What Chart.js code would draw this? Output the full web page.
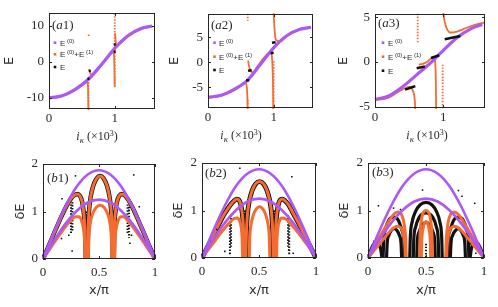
<!DOCTYPE html>
<html><head><meta charset="utf-8">
<script src="https://cdn.jsdelivr.net/npm/chart.js@4.4.1/dist/chart.umd.min.js"></script>
<style>
html,body{margin:0;padding:0;background:#fff;}
body{width:498px;height:307px;position:relative;overflow:hidden;}
canvas{position:absolute;}
</style></head><body>
<canvas id="a1"></canvas><canvas id="a2"></canvas><canvas id="a3"></canvas>
<canvas id="b1"></canvas><canvas id="b2"></canvas><canvas id="b3"></canvas>
<script>
// ================= DATA =================
// ---- top row: x in units of 10^3
const topX = [0, 0.2, 0.4, 0.6, 0.8, 1.0, 1.2, 1.4, 1.57];
const topXTicks = [0, 1];
// (a1)
const a1_E0 = [-10, -9.4, -7.6, -4.8, -0.7, 3.8, 7.3, 9.3, 10];
const a1_x1 = [0, 0.2, 0.4, 0.5, 0.55, 0.58, 0.59, 0.595, 0.6, 0.6, 0.61, 0.625, 0.65, 0.7, 0.8, 0.9, 0.95, 0.975, 0.99, 0.995, 1.0, 1.0, 1.005, 1.015, 1.03, 1.1, 1.2, 1.4, 1.57];
const a1_E1 = [-10.1, -9.5, -7.8, -6.5, -5.8, -5.6, -6.2, -7.5, -13.5, null, -2.0, -3.0, -3.5, -2.8, -0.8, 1.4, 2.4, 2.7, 1.8, -1, -7, null, 8, 5.8, 4.6, 5.4, 7.1, 9.1, 9.9];
const a1_dotCols = [[0.6, -4.8, -13.2], [0.604, 7.2, 8.0], [1.0, 13.5, -6.7]];      // [x, y1, y2]
const a1_E = [[0.585, -4.7, 0.615, -4.6], [0.605, -2.5, 0.635, -2.4], [0.985, 4.8, 1.015, 4.9], [0.985, 2.8, 1.015, 2.9]];
const a1_yTicks = [-10, 0, 10];
// (a2)
const a2_E0 = [-7, -6.6, -5.4, -3.6, -0.4, 2.9, 5.3, 6.6, 7.0];
const a2_x1 = [0, 0.2, 0.4, 0.5, 0.54, 0.57, 0.585, 0.595, 0.6, 0.605, 0.605, 0.612, 0.62, 0.64, 0.68, 0.75, 0.85, 0.92, 0.95, 0.965, 0.975, 0.985, 0.99, 0.995, 0.995, 1.0, 1.01, 1.02, 1.04, 1.1, 1.2, 1.4, 1.57];
const a2_E1 = [-7.1, -6.7, -5.6, -4.7, -4.1, -4.0, -4.4, -5.5, -7, -9.5, null, 0.4, -0.4, -1.4, -2.0, -0.9, 0.9, 1.8, 1.9, 1.7, 1.0, -1.5, -4, -9.5, null, 9.8, 7.5, 5.6, 4.4, 4.2, 5.3, 6.6, 7.1];
const a2_dotCols = [[0.605, 9.7, 8.3], [0.605, -7.5, -9.2], [1.0, 0.2, -9.2]];
const a2_E = [[0.58, -3.6, 0.63, -3.6], [0.61, -1.7, 0.665, -1.6], [0.975, 3.9, 1.03, 4.0], [0.955, 1.8, 1.0, 1.9]];
const a2_yTicks = [-5, 0, 5];
// (a3)
const a3_E0 = [-4.2, -3.8, -2.8, -1.5, -0.2, 1.3, 2.7, 3.7, 4.2];
const a3_x1 = [0, 0.2, 0.35, 0.45, 0.5, 0.53, 0.56, 0.575, 0.585, 0.59, 0.59, 0.64, 0.7, 0.76, 0.82, 0.86, 0.875, 0.885, 0.89, 0.895, 0.895, 1.0, 1.01, 1.03, 1.06, 1.1, 1.2, 1.3, 1.4, 1.5, 1.6];
const a3_E1 = [-4.3, -4.0, -3.3, -2.9, -2.8, -2.9, -3.3, -3.8, -4.6, -5.4, null, -0.3, -0.2, 0.0, 0.4, 0.55, 0.3, -0.5, -2, -5.4, null, 5.5, 4.9, 4.2, 3.6, 3.3, 3.4, 3.7, 4.0, 4.25, 4.4];
const a3_dotCols = [[0.625, 5.4, 2.0], [0.99, -0.3, -5.2]];
const a3_E = [[0.44, -3.1, 0.59, -2.7], [0.61, -0.7, 0.73, -0.5], [0.82, 0.45, 0.94, 0.75], [1.02, 2.55, 1.25, 2.9]];
const a3_yTicks = [-5, 0, 5];

// ---- bottom row: x/pi
const botX = [0, 0.1, 0.2, 0.3, 0.4, 0.5, 0.6, 0.7, 0.8, 0.9, 1];
const botXTicks = [0, 0.5, 1];
const botYTicks = [0, 1, 2];
const purpleHigh = [0, 0.58, 1.1, 1.52, 1.78, 1.87, 1.78, 1.52, 1.1, 0.58, 0];
const purpleLow = [0, 0.39, 0.74, 1.01, 1.19, 1.25, 1.19, 1.01, 0.74, 0.39, 0];
// (b1) orange arches: [xs, ys]
const b1_outer = [
  [[0, 0.05, 0.1, 0.15, 0.2, 0.25, 0.28, 0.305, 0.33, 0.35, 0.365, 0.375, 0.382], [0, 0.27, 0.55, 0.82, 1.07, 1.27, 1.34, 1.37, 1.33, 1.2, 0.95, 0.6, 0]],
  [[0.398, 0.402, 0.41, 0.425, 0.45, 0.48, 0.51, 0.54, 0.57, 0.595, 0.61, 0.618, 0.622], [0, 0.6, 0.98, 1.3, 1.55, 1.7, 1.75, 1.7, 1.55, 1.3, 0.98, 0.6, 0]],
  [[0.632, 0.636, 0.645, 0.66, 0.68, 0.705, 0.73, 0.76, 0.8, 0.85, 0.9, 0.95, 1], [0, 0.6, 0.95, 1.2, 1.33, 1.37, 1.34, 1.25, 1.08, 0.82, 0.55, 0.27, 0]]
];
const b1_inner = [
  [[0, 0.05, 0.1, 0.15, 0.2, 0.25, 0.29, 0.32, 0.345, 0.36, 0.37, 0.375], [0, 0.17, 0.35, 0.52, 0.68, 0.82, 0.89, 0.89, 0.8, 0.65, 0.45, 0]],
  [[0.405, 0.41, 0.42, 0.44, 0.47, 0.51, 0.55, 0.58, 0.6, 0.61, 0.615], [0, 0.45, 0.72, 0.93, 1.07, 1.13, 1.07, 0.93, 0.72, 0.45, 0]],
  [[0.64, 0.645, 0.655, 0.67, 0.695, 0.72, 0.76, 0.8, 0.85, 0.9, 0.95, 1], [0, 0.45, 0.65, 0.8, 0.89, 0.89, 0.8, 0.68, 0.52, 0.35, 0.17, 0]]
];
const b1_blackCols = [[0.25, 1.15, 0.55], [0.262, 1.2, 0.6], [0.755, 1.15, 0.55], [0.768, 1.1, 0.45], [0.386, 1.0, 0], [0.396, 0.9, 0], [0.624, 0.9, 0], [0.634, 1.0, 0]];
const b1_orangeCols = [[0.39, 0.35, 0], [0.628, 0.35, 0]];
const b1_dots = [[0.17, 1.27], [0.29, 1.75], [0.81, 1.77], [0.86, 1.1], [0.165, 0.43], [0.26, 0.17], [0.776, 0.33], [0.23, 0.5], [0.79, 0.5]];
// (b2)
const b2_outer = [
  [[0, 0.05, 0.1, 0.15, 0.2, 0.25, 0.28, 0.305, 0.33, 0.345, 0.357, 0.365, 0.37], [0, 0.24, 0.48, 0.72, 0.94, 1.12, 1.2, 1.24, 1.2, 1.07, 0.85, 0.55, 0]],
  [[0.385, 0.39, 0.398, 0.415, 0.44, 0.47, 0.505, 0.54, 0.57, 0.595, 0.612, 0.62, 0.625], [0, 0.55, 0.9, 1.2, 1.42, 1.56, 1.61, 1.56, 1.42, 1.2, 0.9, 0.55, 0]],
  [[0.64, 0.645, 0.653, 0.665, 0.68, 0.705, 0.73, 0.76, 0.8, 0.85, 0.9, 0.95, 1], [0, 0.55, 0.85, 1.07, 1.2, 1.24, 1.2, 1.12, 0.94, 0.72, 0.48, 0.24, 0]]
];
const b2_inner = [
  [[0, 0.05, 0.1, 0.15, 0.2, 0.24, 0.28, 0.31, 0.33, 0.345, 0.352, 0.356], [0, 0.16, 0.32, 0.48, 0.63, 0.74, 0.83, 0.84, 0.78, 0.62, 0.4, 0]],
  [[0.415, 0.42, 0.43, 0.45, 0.475, 0.505, 0.535, 0.56, 0.58, 0.59, 0.595], [0, 0.45, 0.7, 0.9, 1.03, 1.08, 1.03, 0.9, 0.7, 0.45, 0]],
  [[0.654, 0.658, 0.665, 0.68, 0.7, 0.73, 0.77, 0.81, 0.86, 0.91, 0.96, 1], [0, 0.4, 0.62, 0.78, 0.84, 0.83, 0.74, 0.63, 0.48, 0.32, 0.16, 0]]
];
const b2_blackCols = [[0.245, 0.75, 0.07], [0.255, 0.9, 0.2], [0.372, 1.0, 0], [0.382, 1.0, 0], [0.628, 1.0, 0], [0.638, 1.0, 0], [0.755, 0.9, 0.2], [0.765, 0.75, 0.07]];
const b2_orangeCols = [[0.375, 0.3, 0], [0.633, 0.3, 0]];
const b2_dots = [[0.332, 1.89], [0.788, 1.71], [0.068, 0.35], [0.2, 0.14], [0.76, 0.17], [0.8, 0.1], [0.13, 0.6], [0.935, 0.35]];
// (b3)
const b3_outer = [
  [[0, 0.05, 0.1, 0.15, 0.2, 0.23, 0.26, 0.285, 0.305, 0.318, 0.326, 0.33], [0, 0.22, 0.44, 0.65, 0.85, 0.94, 0.97, 0.93, 0.8, 0.6, 0.35, 0]],
  [[0.445, 0.448, 0.455, 0.465, 0.48, 0.5, 0.52, 0.535, 0.545, 0.552, 0.555], [0, 0.45, 0.7, 0.87, 0.97, 1.0, 0.97, 0.87, 0.7, 0.45, 0]],
  [[0.67, 0.674, 0.682, 0.695, 0.715, 0.74, 0.77, 0.8, 0.85, 0.9, 0.95, 1], [0, 0.35, 0.6, 0.8, 0.93, 0.97, 0.94, 0.85, 0.65, 0.44, 0.22, 0]]
];
const b3_inner = [
  [[0, 0.05, 0.1, 0.15, 0.2, 0.23, 0.26, 0.285, 0.3, 0.31, 0.318, 0.322], [0, 0.15, 0.3, 0.45, 0.59, 0.65, 0.67, 0.63, 0.55, 0.42, 0.25, 0]],
  [[0.46, 0.463, 0.47, 0.48, 0.49, 0.5, 0.51, 0.52, 0.53, 0.537, 0.54], [0, 0.35, 0.55, 0.68, 0.75, 0.77, 0.75, 0.68, 0.55, 0.35, 0]],
  [[0.678, 0.682, 0.69, 0.7, 0.715, 0.74, 0.77, 0.8, 0.85, 0.9, 0.95, 1], [0, 0.25, 0.42, 0.55, 0.63, 0.67, 0.65, 0.59, 0.45, 0.3, 0.15, 0]]
];
const b3_black = [
  [[0.36, 0.365, 0.38, 0.41, 0.45, 0.5, 0.55, 0.59, 0.62, 0.635, 0.64], [0, 0.45, 0.75, 0.98, 1.12, 1.17, 1.12, 0.98, 0.75, 0.45, 0]],
  [[0.39, 0.395, 0.41, 0.44, 0.5, 0.56, 0.59, 0.605, 0.61], [0, 0.4, 0.65, 0.85, 0.95, 0.85, 0.65, 0.4, 0]],
  [[0.42, 0.425, 0.44, 0.47, 0.5, 0.53, 0.56, 0.575, 0.58], [0, 0.35, 0.55, 0.7, 0.75, 0.7, 0.55, 0.35, 0]],
  [[0.13, 0.135, 0.15, 0.18, 0.22, 0.26, 0.29, 0.31, 0.315], [0, 0.35, 0.6, 0.8, 0.86, 0.8, 0.6, 0.35, 0]],
  [[0.16, 0.165, 0.18, 0.2, 0.225, 0.25, 0.27, 0.285, 0.29], [0, 0.3, 0.48, 0.58, 0.62, 0.58, 0.48, 0.3, 0]],
  [[0.685, 0.69, 0.71, 0.74, 0.78, 0.82, 0.85, 0.865, 0.87], [0, 0.35, 0.6, 0.8, 0.86, 0.8, 0.6, 0.35, 0]],
  [[0.71, 0.715, 0.73, 0.755, 0.775, 0.8, 0.82, 0.835, 0.84], [0, 0.3, 0.48, 0.58, 0.62, 0.58, 0.48, 0.3, 0]],
  [[0, 0.03, 0.06, 0.09, 0.11, 0.12], [0, 0.2, 0.32, 0.3, 0.18, 0]],
  [[0.88, 0.89, 0.91, 0.94, 0.97, 1], [0, 0.18, 0.3, 0.32, 0.2, 0]]
];
const b3_blackCols = [[0.125, 0.3, 0], [0.32, 0.5, 0], [0.68, 0.5, 0], [0.875, 0.3, 0], [0.5, 0.3, 0]];
const b3_dots = [[0.09, 1.1], [0.22, 1.05], [0.28, 1.02], [0.47, 1.43], [0.78, 1.42], [0.81, 1.3], [0.92, 1.15], [0.88, 0.3], [0.93, 0.1], [0.05, 0.35]];

// ================= STYLE =================
const PURPLE = 'rgb(172,88,245)', ORANGE = 'rgb(245,108,48)', BLACK = '#111';
const TICK_FONT = {family: 'Liberation Serif', size: 13};
const TEXT = '#2a2a2a';

const zip = (xs, ys) => xs.map((x, i) => ({x, y: ys[i]}));
function lineDS(data, color, width, order, dash) {
  return {data, showLine: true, borderColor: color, backgroundColor: color, borderWidth: width,
    pointRadius: 0, cubicInterpolationMode: 'monotone', spanGaps: false, order, clip: 1, borderDash: dash || []};
}
function dotDS(pts, color, r, order) {
  return {data: pts.map(p => ({x: p[0], y: p[1]})), showLine: false, pointRadius: r, pointStyle: 'rect',
    backgroundColor: color, borderWidth: 0, order, clip: 1};
}
function colDS(cols, color, width, order) {
  return cols.map(c => lineDS([{x: c[0], y: c[1]}, {x: c[0], y: c[2]}], color, width, order, [1.5, 1.5]));
}
function segDS(segs, color, width, order) {
  return segs.map(s => lineDS([{x: s[0], y: s[1]}, {x: s[2], y: s[3]}], color, width, order));
}

const DECO = {};
function runs(ctx, x, y, parts, align) {
  let w = 0;
  parts.forEach(p => { ctx.font = p[1]; w += ctx.measureText(p[0]).width; });
  let cx = align === 'center' ? x - w / 2 : x;
  parts.forEach(p => { ctx.font = p[1]; ctx.fillText(p[0], cx, y + (p[2] || 0)); cx += ctx.measureText(p[0]).width; });
}
const decoPlugin = {
  id: 'deco',
  afterDatasetsDraw(chart) {
    const d = DECO[chart.canvas.id];
    const ctx = chart.ctx, a = chart.chartArea, sx = chart.scales.x, sy = chart.scales.y;
    ctx.save();
    ctx.strokeStyle = '#262626'; ctx.lineWidth = 1;
    ctx.strokeRect(Math.round(a.left) + 0.5, Math.round(a.top) + 0.5, Math.round(a.right - a.left) - 1, Math.round(a.bottom - a.top) - 1);
    ctx.beginPath();
    const L = 3;
    sx.ticks.forEach(t => { const p = Math.round(sx.getPixelForValue(t.value)) + 0.5;
      ctx.moveTo(p, a.bottom); ctx.lineTo(p, a.bottom - L); ctx.moveTo(p, a.top); ctx.lineTo(p, a.top + L); });
    sy.ticks.forEach(t => { const p = Math.round(sy.getPixelForValue(t.value)) + 0.5;
      ctx.moveTo(a.left, p); ctx.lineTo(a.left + L, p); ctx.moveTo(a.right, p); ctx.lineTo(a.right - L, p); });
    ctx.stroke();
    const ox = d.left, oy = d.top;
    ctx.fillStyle = TEXT; ctx.textBaseline = 'alphabetic';
    // panel label
    const SF = '13px "Liberation Serif"', SI = 'italic 13px "Liberation Serif"';
    runs(ctx, d.lab[0] - ox, d.lab[1] - oy, [['(', SF], [d.name[0], SI], [d.name.slice(1) + ')', SF]]);
    // legend
    if (d.leg) {
      const F = '8px "Liberation Sans"', S = '6px "Liberation Sans"';
      const items = [[PURPLE, [['E', F], [' (0)', S, -3]]], [ORANGE, [['E', F], [' (0)', S, -3], ['+E', F], [' (1)', S, -3]]], [BLACK, [['E', F]]]];
      items.forEach((it, i) => {
        const yy = d.leg.rows[i] - oy;
        ctx.fillStyle = it[0]; ctx.fillRect(d.leg.mx - ox - 1.3, yy - 1.3, 2.6, 2.6);
        ctx.fillStyle = TEXT; runs(ctx, d.leg.tx - ox, yy + 3, it[1]);
      });
    }
    // x title of the top row
    if (d.xt) {
      const N = '12px "Liberation Serif"', I = 'italic 12px "Liberation Serif"', IS = 'italic 9px "Liberation Serif"', SS = '8px "Liberation Serif"';
      runs(ctx, d.xt[0] - ox, d.xt[1] - oy, [['i', I], ['\u03BA', IS, 2.5], [' (\u00D710', N], ['3', SS, -4.5], [')', N]], 'center');
    }
    ctx.restore();
  }
};

function makeChart(id, p) {
  const cv = document.getElementById(id);
  cv.width = p.w; cv.height = p.h;
  cv.style.left = p.left + 'px'; cv.style.top = p.top + 'px';
  cv.style.width = p.w + 'px'; cv.style.height = p.h + 'px';
  DECO[id] = p;
  new Chart(cv, {
    type: 'scatter',
    data: {datasets: p.datasets},
    plugins: [decoPlugin],
    options: {
      responsive: false, animation: false, devicePixelRatio: 1,
      layout: {padding: {left: 0, top: p.pt, right: p.pr, bottom: 0}},
      plugins: {legend: {display: false}, tooltip: {enabled: false}},
      scales: {
        x: {type: 'linear', min: p.xr[0], max: p.xr[1],
          grid: {display: false, drawTicks: false}, border: {display: false},
          ticks: {font: TICK_FONT, color: TEXT, padding: p.xpad, maxRotation: 0, autoSkip: false, callback: v => String(v)},
          afterBuildTicks: s => { s.ticks = p.xticks.map(v => ({value: v})); },
          afterFit: s => { s.height = p.hX; s.paddingLeft = 0; s.paddingRight = 0; },
          title: p.xtitle ? {display: true, text: p.xtitle, color: TEXT, font: {family: 'DejaVu Sans', size: 13}, padding: {top: 0, bottom: p.xtpad}} : {display: false}},
        y: {type: 'linear', min: p.yr[0], max: p.yr[1],
          grid: {display: false, drawTicks: false}, border: {display: false},
          ticks: {font: TICK_FONT, color: TEXT, padding: p.ypad, autoSkip: false, callback: v => String(v)},
          afterBuildTicks: s => { s.ticks = p.yticks.map(v => ({value: v})); },
          afterFit: s => { s.width = p.wY; s.paddingTop = 0; s.paddingBottom = 0; },
          title: {display: true, text: p.ytitle, color: TEXT, font: {family: 'DejaVu Sans', size: 13}, padding: {top: p.ytpad, bottom: 0}}}
      }
    }
  });
}

function topSets(E0, x1, E1, cols, E) {
  return [
    ...segDS(E, BLACK, 2.5, 0),
    lineDS(zip(topX, E0), PURPLE, 3.2, 1),
    lineDS(zip(x1, E1), ORANGE, 1.8, 2),
    ...colDS(cols, ORANGE, 1.8, 2)
  ];
}
function botSets(outer, inner, blackArches, blackW, blackCols, orangeCols, dots) {
  const s = [lineDS(zip(botX, purpleHigh), PURPLE, 2.6, 0), lineDS(zip(botX, purpleLow), PURPLE, 2.6, 0)];
  outer.forEach(a => s.push(lineDS(zip(a[0], a[1]), ORANGE, 3, 1)));
  inner.forEach(a => s.push(lineDS(zip(a[0], a[1]), ORANGE, 3, 1)));
  blackArches.forEach(a => s.push(lineDS(zip(a[0], a[1]), BLACK, blackW, 2)));
  s.push(...colDS(blackCols, BLACK, 2, 2));
  s.push(...colDS(orangeCols, ORANGE, 2, 1));
  s.push(dotDS(dots, BLACK, 1.1, 0));
  return s;
}

makeChart('a1', {left: 0, top: 0, w: 160, h: 145, wY: 49, pr: 5, pt: 13, hX: 36,
  xr: [0, 1.613], yr: [-13.06, 13.6], xticks: topXTicks, yticks: a1_yTicks, xpad: 2, ypad: 5,
  ytitle: 'E', ytpad: 2, name: 'a1', lab: [52, 29], xt: [97, 140],
  leg: {mx: 55, tx: 60, rows: [42.7, 54.3, 67]},
  datasets: topSets(a1_E0, a1_x1, a1_E1, a1_dotCols, a1_E)});
makeChart('a2', {left: 165, top: 0, w: 153, h: 145, wY: 43, pr: 5, pt: 14, hX: 37,
  xr: [0, 1.60], yr: [-9.14, 9.66], xticks: topXTicks, yticks: a2_yTicks, xpad: 2, ypad: 5,
  ytitle: 'E', ytpad: 2, name: 'a2', lab: [211, 29], xt: [241, 139],
  leg: {mx: 214.5, tx: 219, rows: [42.7, 56.7, 70]},
  datasets: topSets(a2_E0, a2_x1, a2_E1, a2_dotCols, a2_E)});
makeChart('a3', {left: 330, top: 0, w: 160, h: 145, wY: 45, pr: 5, pt: 14, hX: 37,
  xr: [0, 1.61], yr: [-5.15, 5.37], xticks: topXTicks, yticks: a3_yTicks, xpad: 2, ypad: 5,
  ytitle: 'E', ytpad: 6, name: 'a3', lab: [378, 27], xt: [427, 139],
  leg: {mx: 383, tx: 388, rows: [42.7, 56.7, 70.7]},
  datasets: topSets(a3_E0, a3_x1, a3_E1, a3_dotCols, a3_E)});

makeChart('b1', {left: 0, top: 148, w: 160, h: 159, wY: 43, pr: 5, pt: 16, hX: 48,
  xr: [0, 1], yr: [0, 2], xticks: botXTicks, yticks: botYTicks, xpad: 6, ypad: 5,
  ytitle: '\u03B4E', ytpad: 13, xtitle: 'x/\u03C0', xtpad: 9, name: 'b1', lab: [47, 182],
  datasets: botSets(b1_outer, b1_inner, b1_outer, 4.4, b1_blackCols, b1_orangeCols, b1_dots)});
makeChart('b2', {left: 165, top: 148, w: 156, h: 159, wY: 37, pr: 5, pt: 15, hX: 49,
  xr: [0, 1], yr: [0, 2], xticks: botXTicks, yticks: botYTicks, xpad: 6, ypad: 5,
  ytitle: '\u03B4E', ytpad: 6, xtitle: 'x/\u03C0', xtpad: 9, name: 'b2', lab: [205, 177],
  datasets: botSets(b2_outer, b2_inner, b2_outer, 4.8, b2_blackCols, b2_orangeCols, b2_dots)});
makeChart('b3', {left: 330, top: 148, w: 159, h: 159, wY: 38, pr: 5, pt: 15, hX: 49,
  xr: [0, 1], yr: [0, 2], xticks: botXTicks, yticks: botYTicks, xpad: 6, ypad: 5,
  ytitle: '\u03B4E', ytpad: 7, xtitle: 'x/\u03C0', xtpad: 9, name: 'b3', lab: [372, 176],
  datasets: botSets(b3_outer, b3_inner, b3_black, 3.2, b3_blackCols, [], b3_dots)});
</script>
</body></html>
